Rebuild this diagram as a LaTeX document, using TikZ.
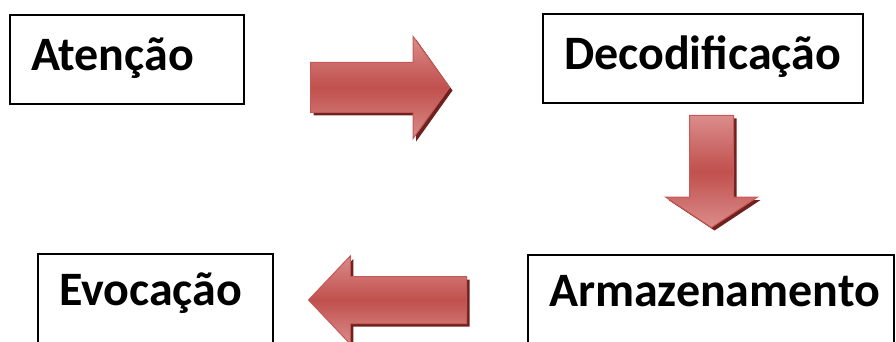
\documentclass[tikz,border=0pt]{standalone}
\usepackage{fontspec}
\setmainfont{Carlito}
\usetikzlibrary{shapes.arrows,shadows}
\definecolor{arrmid}{RGB}{192,80,77}
\definecolor{arrlight}{RGB}{218,140,138}
\definecolor{arrline}{RGB}{200,88,85}
\definecolor{arrshadow}{RGB}{110,34,32}
\tikzset{
  box/.style={draw=black, line width=2pt, rectangle, anchor=north west,
    inner xsep=21pt, inner ysep=0pt, align=left, minimum height=89pt,
    text height=32pt, text depth=9pt,
    font=\fontsize{48}{54}\selectfont\bfseries},
  lowbox/.style={box, minimum height=96pt, text depth=25pt},
  blockarrow/.style={single arrow, draw=arrline, line width=1pt,
    top color=arrlight, bottom color=arrlight, middle color=arrmid,
    single arrow head indent=0pt, anchor=tail,
    general shadow={fill=arrshadow, shadow xshift=3pt, shadow yshift=-3pt}}
}
\begin{document}
\begin{tikzpicture}[x=1pt,y=-1pt]
\useasboundingbox (0,0) rectangle (896,342);
\clip (0,0) rectangle (896,342);
\node[box, text width=192pt] (aten) at (9,14) {Atenção};
\node[box, text width=278pt] (deco) at (542,13) {Decodificação};
\node[lowbox, text width=324pt] (arma) at (527,254) {Armazenamento};
\node[lowbox, text width=193pt] (evoc) at (37,253) {Evocação};
\node[blockarrow, inner sep=24.5pt, minimum height=139pt, minimum width=101pt,
  single arrow head extend=26pt, single arrow tip angle=109] (a1) at (310,87.5) {};
\node[blockarrow, inner sep=21.5pt, shape border rotate=270, minimum height=112pt, minimum width=91pt,
  single arrow head extend=24pt, single arrow tip angle=113] (a2) at (711.5,115) {};
\node[blockarrow, inner sep=23pt, shape border rotate=180, minimum height=158pt, minimum width=87pt,
  single arrow head extend=20.5pt, single arrow tip angle=93] (a3) at (467,300) {};
\end{tikzpicture}
\end{document}
